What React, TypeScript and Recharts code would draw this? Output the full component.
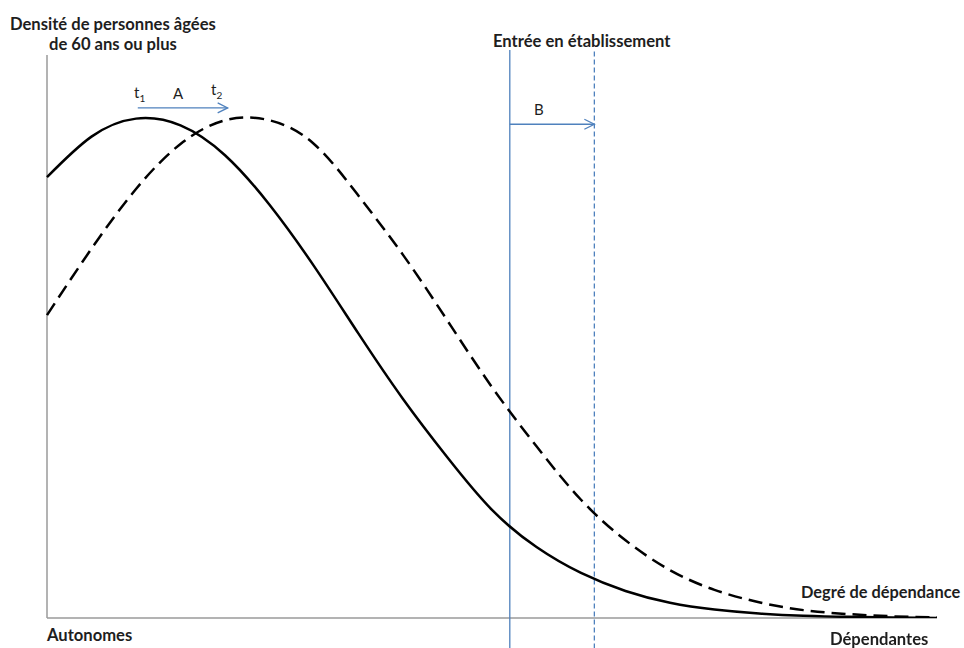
import React from "react";
import { ComposedChart, Line, XAxis, YAxis, ReferenceLine } from "recharts";

// degré de dépendance (0 = autonomes, 100 = dépendantes)
const degre = [0, 5, 10, 15, 20, 25, 30, 35, 40, 45, 50, 55, 60, 65, 70, 75, 80, 85, 90, 95, 100];
// densité à t1 (trait plein) et t2 (tirets)
const densiteT1 = [78.3, 85.5, 88.7, 87.5, 82.2, 73.4, 62.5, 50.5, 38.9, 28.5, 19.2, 12.6, 8.0, 4.8, 2.7, 1.5, 0.8, 0.4, 0.2, 0.1, 0];
const densiteT2 = [53.8, 65.6, 76.2, 84.2, 88.4, 88.4, 84.2, 75.0, 64.5, 52.8, 41.0, 30.5, 21.0, 13.8, 8.5, 5.0, 2.8, 1.4, 0.7, 0.3, 0.1];

// seuils d'entrée en établissement
const entreeT1 = 52.0;
const entreeT2 = 61.5;
// flèches A (décalage de la distribution) et B (décalage du seuil)
const flecheA = { from: 10.2, to: 20.3, y: 90.6 };
const flecheB = { from: entreeT1, to: entreeT2, y: 87.7 };

const data = degre.map((d, i) => ({ degre: d, t1: densiteT1[i], t2: densiteT2[i] }));

const BLUE = "#4f81bd";
const AXIS = "#9a9a9a";
const FONT = "Lato, 'Open Sans', sans-serif";

const Arrow = (props: any) => {
  const { x1, y1, x2, y2 } = props;
  return (
    <g>
      <line x1={x1} y1={y1} x2={x2} y2={y2} stroke={BLUE} strokeWidth={1.3} />
      <path d={`M${x2 - 10},${y2 - 5} L${x2},${y2} L${x2 - 10},${y2 + 5}`} fill="none" stroke={BLUE} strokeWidth={1.3} />
    </g>
  );
};

const txt = (left: number, top: number, size: number, bold: boolean): React.CSSProperties => ({
  position: "absolute",
  left,
  top,
  fontSize: size,
  fontWeight: bold ? 700 : 400,
  fontFamily: FONT,
  color: "#1e1e1e",
  whiteSpace: "nowrap",
  lineHeight: 1,
});

export default function App() {
  return (
    <div style={{ position: "fixed", left: 0, top: 0, width: 964, height: 648, background: "#fff" }}>
      <ComposedChart width={964} height={648} data={data} margin={{ top: 55, right: 27, bottom: 30, left: 47 }}>
        <XAxis dataKey="degre" type="number" domain={[0, 100]} height={0} tick={false} tickLine={false} axisLine={false} />
        <YAxis type="number" domain={[0, 100]} width={0} tick={false} tickLine={false} axisLine={false} allowDataOverflow />
        {/* axes */}
        <ReferenceLine segment={[{ x: 0, y: 0 }, { x: 100, y: 0 }]} ifOverflow="visible" stroke={AXIS} strokeWidth={1.5} />
        <ReferenceLine segment={[{ x: 0, y: 0 }, { x: 0, y: 100 }]} ifOverflow="visible" stroke={AXIS} strokeWidth={1.5} />
        <ReferenceLine
          segment={[{ x: entreeT1, y: -5.4 }, { x: entreeT1, y: 100.9 }]}
          ifOverflow="visible"
          stroke={BLUE}
          strokeWidth={1.3}
        />
        <ReferenceLine
          segment={[{ x: entreeT2, y: -5.4 }, { x: entreeT2, y: 100.9 }]}
          ifOverflow="visible"
          stroke={BLUE}
          strokeWidth={1.3}
          strokeDasharray="5 3"
        />
        <ReferenceLine
          segment={[{ x: flecheA.from, y: flecheA.y }, { x: flecheA.to, y: flecheA.y }]}
          ifOverflow="visible"
          shape={Arrow}
        />
        <ReferenceLine
          segment={[{ x: flecheB.from, y: flecheB.y }, { x: flecheB.to, y: flecheB.y }]}
          ifOverflow="visible"
          shape={Arrow}
        />
        <Line type="natural" dataKey="t2" stroke="#000" strokeWidth={2.5} strokeDasharray="14 7" dot={false} isAnimationActive={false} />
        <Line type="natural" dataKey="t1" stroke="#000" strokeWidth={2.5} dot={false} isAnimationActive={false} />
      </ComposedChart>

      <div style={txt(10, 16, 16.6, true)}>Densité de personnes âgées</div>
      <div style={txt(49, 36, 16.6, true)}>de 60 ans ou plus</div>
      <div style={txt(493, 33, 16.6, true)}>Entrée en établissement</div>
      <div style={txt(801, 584, 16.4, true)}>Degré de dépendance</div>
      <div style={txt(47, 627, 16.6, true)}>Autonomes</div>
      <div style={txt(830, 631, 16.6, true)}>Dépendantes</div>

      <div style={txt(134, 85, 15, false)}>
        t<sub style={{ fontSize: 10 }}>1</sub>
      </div>
      <div style={txt(173, 86, 15, false)}>A</div>
      <div style={txt(211, 82, 15, false)}>
        t<sub style={{ fontSize: 10 }}>2</sub>
      </div>
      <div style={txt(534, 102, 15, false)}>B</div>
    </div>
  );
}
